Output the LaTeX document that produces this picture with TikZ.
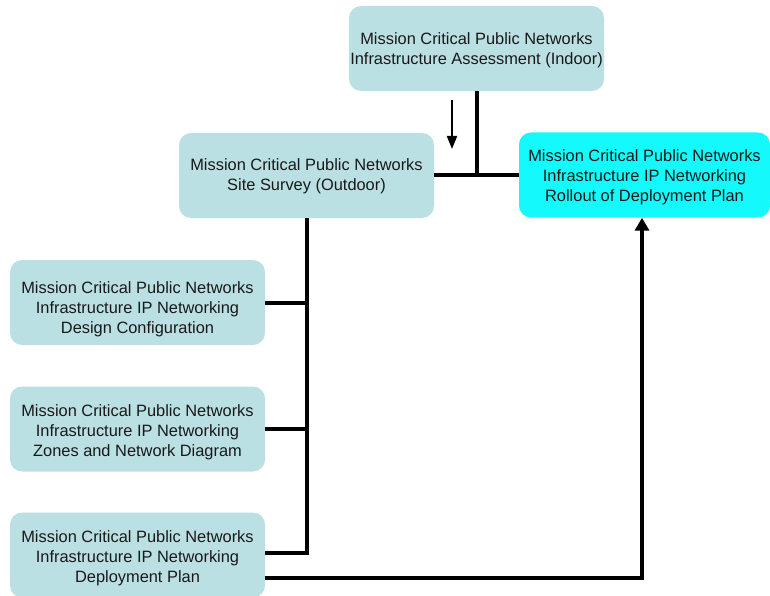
\documentclass[tikz,border=0pt]{standalone}
\usepackage{fontspec}
\setmainfont{Liberation Sans}
\usetikzlibrary{arrows.meta}
\definecolor{boxteal}{RGB}{187,224,227}
\definecolor{boxcyan}{RGB}{20,250,252}
\newcommand{\boxlines}[2]{\raisebox{-#1}[\height][\depth]{\begin{tabular}{@{}c@{}}#2\end{tabular}}}
\tikzset{
  taskbox/.style={fill=boxteal, draw=none, rounded corners=12pt, minimum width=255pt, minimum height=85pt,
    font=\fontsize{16.4}{20}\selectfont, inner sep=0pt, text=black!90},
  hotbox/.style={taskbox, fill=boxcyan, minimum width=251pt},
  link/.style={line width=4pt, black},
  arrowlink/.style={link, -{Triangle[width=14pt,length=13pt]}},
  thinarrow/.style={line width=2pt, black, -{Triangle[width=10pt,length=13pt]}}
}
\begin{document}
\begin{tikzpicture}[x=1pt,y=-1pt]
\useasboundingbox (0,0) rectangle (770,596);
\node[taskbox] (A) at (476.5,48.5) {\boxlines{2pt}{Mission Critical Public Networks\\Infrastructure Assessment (Indoor)}};
\node[taskbox] (B) at (306.5,175.5) {\boxlines{1.5pt}{Mission Critical Public Networks\\Site Survey (Outdoor)}};
\node[hotbox] (C) at (644.5,175) {\boxlines{3pt}{Mission Critical Public Networks\\Infrastructure IP Networking\\Rollout of Deployment Plan}};
\node[taskbox] (D) at (137.5,302.5) {\boxlines{7pt}{Mission Critical Public Networks\\Infrastructure IP Networking\\Design Configuration}};
\node[taskbox] (E) at (137.5,429) {\boxlines{3pt}{Mission Critical Public Networks\\Infrastructure IP Networking\\Zones and Network Diagram}};
\node[taskbox] (F) at (137.5,555) {\boxlines{3.5pt}{Mission Critical Public Networks\\Infrastructure IP Networking\\Deployment Plan}};
% top junction
\coordinate (J1) at (477,175);
\draw[link] (A.south -| J1) -- (J1);
\draw[link] (B.east |- J1) -- (C.west |- J1);
\coordinate (S1) at (452,100);
\coordinate (S2) at (452,149);
\draw[thinarrow] (S1) -- (S2);
% left bus
\coordinate (Bus) at (307,553);
\draw[link] (B.south -| Bus) -- (Bus) -- (F.east |- Bus);
\draw[link] (D.east) -- (D.east -| Bus);
\draw[link] (E.east) -- (E.east -| Bus);
% long arrow
\coordinate (K) at (642,578);
\draw[arrowlink] (F.east |- K) -- (K) -- (C.south -| K);
\end{tikzpicture}
\end{document}
